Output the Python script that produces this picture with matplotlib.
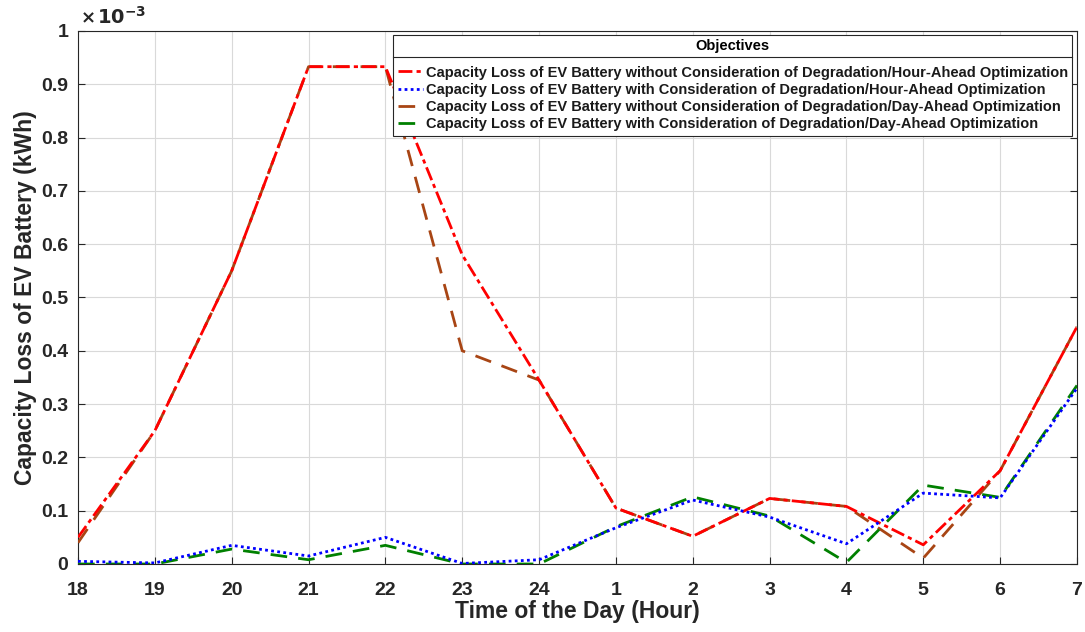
import matplotlib
matplotlib.use("Agg")
import matplotlib.pyplot as plt
from matplotlib.ticker import FixedLocator, FuncFormatter
from matplotlib.lines import Line2D

plt.rcParams['font.family'] = ['Liberation Sans', 'DejaVu Sans']
plt.rcParams['font.weight'] = 'bold'

hours = ['18', '19', '20', '21', '22', '23', '24', '1', '2', '3', '4', '5', '6', '7']

# Capacity loss in kWh (x1e-3)
hour_ahead_no_deg = [0.050, 0.250, 0.550, 0.933, 0.933, 0.580, 0.345, 0.105,
                     0.052, 0.123, 0.108, 0.036, 0.175, 0.445]
hour_ahead_deg = [0.005, 0.002, 0.035, 0.015, 0.050, 0.001, 0.008, 0.068,
                  0.120, 0.088, 0.038, 0.133, 0.124, 0.330]
day_ahead_no_deg = [0.040, 0.250, 0.550, 0.933, 0.933, 0.400, 0.345, 0.105,
                    0.052, 0.123, 0.108, 0.011, 0.175, 0.445]
day_ahead_deg = [0.000, 0.000, 0.028, 0.008, 0.035, 0.000, 0.000, 0.070,
                 0.126, 0.090, 0.003, 0.148, 0.125, 0.335]

labels = [
    'Capacity Loss of EV Battery without Consideration of Degradation/Hour-Ahead Optimization',
    'Capacity Loss of EV Battery with Consideration of Degradation/Hour-Ahead Optimization',
    'Capacity Loss of EV Battery without Consideration of Degradation/Day-Ahead Optimization',
    'Capacity Loss of EV Battery with Consideration of Degradation/Day-Ahead Optimization',
]

scale = 1e-3
x = list(range(len(hours)))

fig = plt.figure(figsize=(10.85, 6.32), dpi=100)
ax = fig.add_axes([0.0719, 0.1076, 0.9207, 0.8434])

lw = 2.0
ax.plot(x, [v * scale for v in hour_ahead_no_deg], color=(1, 0, 0), lw=lw,
        linestyle=(0, (5, 1.5, 1.5, 1.5)), label=labels[0], zorder=4)
ax.plot(x, [v * scale for v in hour_ahead_deg], color=(0, 0, 1), lw=lw,
        linestyle=(0, (1, 1.2)), label=labels[1], zorder=5)
ax.plot(x, [v * scale for v in day_ahead_no_deg], color=(0.66, 0.27, 0.08), lw=lw,
        linestyle=(0, (6, 4)), label=labels[2], zorder=3)
ax.plot(x, [v * scale for v in day_ahead_deg], color=(0.0, 0.5, 0.0), lw=lw,
        linestyle=(0, (6, 4)), label=labels[3], zorder=3)

ax.set_xlim(0, len(hours) - 1)
ax.set_ylim(0, 1e-3)
ax.xaxis.set_major_locator(FixedLocator(x))
ax.set_xticklabels(hours)
ax.yaxis.set_major_locator(FixedLocator([i * 1e-4 for i in range(11)]))
ax.yaxis.set_major_formatter(FuncFormatter(lambda v, p: f'{v / scale:g}'))

ax.grid(True, color=(0.85, 0.85, 0.85), lw=0.8)
ax.set_axisbelow(True)
ax.tick_params(direction='in', length=5, labelsize=14, colors='#262626',
               width=0.8, top=False, right=True)
ax.tick_params(axis='x', pad=13)
ax.tick_params(axis='y', pad=7)
for lab in ax.get_xticklabels() + ax.get_yticklabels():
    lab.set_fontweight('bold')
for s in ax.spines.values():
    s.set_color('#262626')
    s.set_linewidth(0.8)

ax.set_xlabel('Time of the Day (Hour)', fontsize=16.5, fontweight='bold',
              color='#262626', labelpad=1)
ax.set_ylabel('Capacity Loss of EV Battery (kWh)', fontsize=16.5, fontweight='bold',
              color='#262626', labelpad=3)

ax.text(0.002, 1.006, r'$\times$', transform=ax.transAxes,
        fontsize=13, color='#262626', ha='left', va='bottom')
ax.text(0.019, 1.006, r'$\mathbf{10^{-3}}$', transform=ax.transAxes,
        fontsize=14, color='#262626', ha='left', va='bottom')

leg = ax.legend(loc='upper right', bbox_to_anchor=(0.9955, 0.993), fontsize=10.5,
                title='Objectives', title_fontproperties={'weight': 'bold', 'size': 10.5},
                handlelength=1.75, handletextpad=0.2, labelspacing=0.22,
                borderpad=0.3, fancybox=False, framealpha=1, edgecolor='#262626',
                borderaxespad=0)
leg.get_frame().set_linewidth(0.8)
leg._legend_box.sep = 9
for t in leg.get_texts():
    t.set_fontweight('bold')
    t.set_color('#1a1a1a')

# separator line under the legend title
fig.canvas.draw()
r = fig.canvas.get_renderer()
lb = leg.get_window_extent(r)
tb = leg.get_title().get_window_extent(r)
ysep = tb.y0 - 4
inv = fig.transFigure.inverted()
(x0, y0) = inv.transform((lb.x0, ysep))
(x1, _) = inv.transform((lb.x1, ysep))
fig.add_artist(Line2D([x0, x1], [y0, y0], color='#262626', lw=0.8,
                      transform=fig.transFigure, zorder=10))

fig.savefig('out.png', dpi=100)
